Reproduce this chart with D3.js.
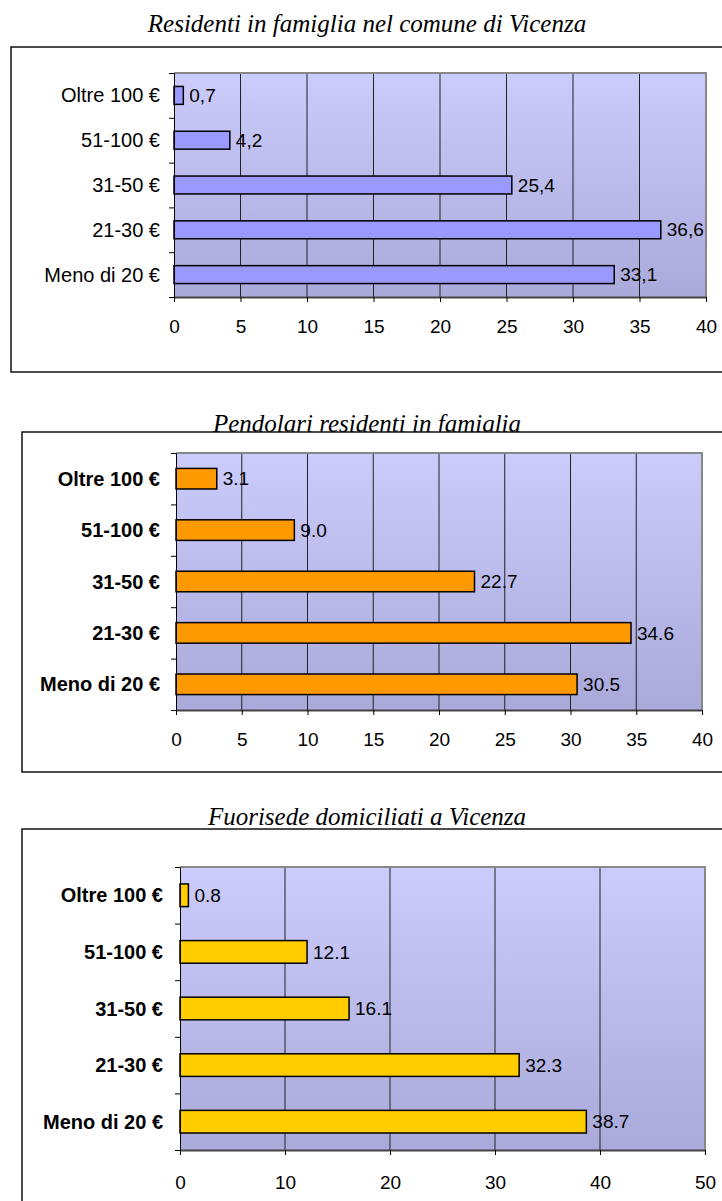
<!DOCTYPE html>
<html>
<head>
<meta charset="utf-8">
<script src="https://cdn.jsdelivr.net/npm/d3@7"></script>
<style>
  body { margin: 0; background: #fff; }
  svg { display: block; }
  text { font-family: "Liberation Sans", Arial, sans-serif; fill: #000; }
  .title { font-family: "Liberation Serif", "Times New Roman", serif; font-style: italic; }
</style>
</head>
<body>
<svg id="chart" width="722" height="1201"></svg>
<script>
// categories, top to bottom
var categories = ['Oltre 100 €', '51-100 €', '31-50 €', '21-30 €', 'Meno di 20 €'];

var titles = [
  'Residenti in famiglia nel comune di Vicenza',
  'Pendolari residenti in famiglia',
  'Fuorisede domiciliati a Vicenza'
];

var residenti = [0.7, 4.2, 25.4, 36.6, 33.1];
var pendolari = [3.1, 9.0, 22.7, 34.6, 30.5];
var fuorisede = [0.8, 12.1, 16.1, 32.3, 38.7];

var ticks1 = [0, 5, 10, 15, 20, 25, 30, 35, 40];
var ticks2 = [0, 5, 10, 15, 20, 25, 30, 35, 40];
var ticks3 = [0, 10, 20, 30, 40, 50];

var svg = d3.select('#chart');

var defs = svg.append('defs');
var grad = defs.append('linearGradient')
  .attr('id', 'bg')
  .attr('x1', 0).attr('y1', 0).attr('x2', 0).attr('y2', 1);
grad.append('stop').attr('offset', '0%').attr('stop-color', '#ccccfc');
grad.append('stop').attr('offset', '100%').attr('stop-color', '#aaaada');

function drawChart(opt) {
  var g = svg.append('g');

  // title first, so the frame hides descenders that run into it
  g.append('text')
    .attr('class', 'title')
    .attr('x', 367).attr('y', opt.titleY)
    .attr('text-anchor', 'middle')
    .style('font-size', '25px')
    .text(opt.title);

  // outer frame
  g.append('rect')
    .attr('x', opt.frame.x).attr('y', opt.frame.y)
    .attr('width', 800).attr('height', opt.frame.h)
    .attr('fill', '#fff').attr('stroke', '#111').attr('stroke-width', 1.5);

  var p = opt.plot;
  var x = d3.scaleLinear().domain([0, opt.ticks[opt.ticks.length - 1]]).range([p.l, p.r]);
  var y = d3.scaleBand().domain(categories).range([p.t, p.b])
    .paddingInner(0.6).paddingOuter(0.3);
  var yEdge = d3.scaleLinear().domain([0, categories.length]).range([p.t, p.b]);

  g.append('rect')
    .attr('x', p.l).attr('y', p.t)
    .attr('width', p.r - p.l).attr('height', p.b - p.t)
    .attr('fill', 'url(#bg)');

  // grid lines
  g.selectAll('.grid')
    .data(opt.ticks.slice(1, -1))
    .enter().append('line')
    .attr('x1', d => x(d)).attr('x2', d => x(d))
    .attr('y1', p.t).attr('y2', p.b)
    .attr('stroke', '#222').attr('stroke-width', 1);

  // plot border top / right
  g.append('path')
    .attr('d', 'M' + p.l + ',' + p.t + 'H' + p.r + 'V' + p.b)
    .attr('fill', 'none').attr('stroke', '#888').attr('stroke-width', 2);

  // bars
  g.selectAll('.bar')
    .data(opt.values)
    .enter().append('rect')
    .attr('x', x(0))
    .attr('y', (d, i) => y(categories[i]))
    .attr('width', d => x(d) - x(0))
    .attr('height', y.bandwidth())
    .attr('fill', opt.color)
    .attr('stroke', '#000').attr('stroke-width', 1.5);

  // value labels
  g.selectAll('.val')
    .data(opt.values)
    .enter().append('text')
    .attr('x', d => x(d) + 6)
    .attr('y', (d, i) => y(categories[i]) + y.bandwidth() / 2)
    .attr('dy', '0.35em')
    .style('font-size', '19px')
    .text(d => opt.fmt(d));

  // category axis: ticks at boundaries
  var ya = g.append('g')
    .attr('transform', 'translate(' + p.l + ',0)')
    .call(d3.axisLeft(yEdge).tickValues(d3.range(categories.length + 1)).tickFormat('').tickSize(5).tickSizeOuter(0));
  ya.select('.domain').attr('stroke', '#000');

  g.selectAll('.cat')
    .data(categories)
    .enter().append('text')
    .attr('x', opt.labelX)
    .attr('y', d => y(d) + y.bandwidth() / 2)
    .attr('dy', '0.35em')
    .attr('text-anchor', 'end')
    .style('font-size', '20px')
    .style('font-weight', opt.bold ? 'bold' : 'normal')
    .text(d => d);

  // value axis
  var xa = g.append('g')
    .attr('transform', 'translate(0,' + p.b + ')')
    .call(d3.axisBottom(x).tickValues(opt.ticks).tickSize(5).tickSizeOuter(0).tickPadding(opt.tickPad));
  xa.select('.domain').attr('stroke', '#444').attr('stroke-width', 2);
  xa.selectAll('text').style('font-size', '19px').style('font-family', '"Liberation Sans", Arial, sans-serif').attr('fill', '#000');
  xa.selectAll('line').attr('stroke', '#000');
}

drawChart({
  title: titles[0], titleY: 32,
  frame: {x: 11, y: 47, h: 325},
  plot: {l: 174, r: 706, t: 73, b: 297},
  values: residenti, ticks: ticks1, color: '#9999ff',
  labelX: 160, bold: false, tickPad: 18,
  fmt: d => d3.format('.1f')(d).replace('.', ',')
});

drawChart({
  title: titles[1], titleY: 432,
  frame: {x: 22, y: 432, h: 340},
  plot: {l: 176, r: 702, t: 453, b: 710},
  values: pendolari, ticks: ticks2, color: '#ff9900',
  labelX: 160, bold: true, tickPad: 18,
  fmt: d3.format('.1f')
});

drawChart({
  title: titles[2], titleY: 825,
  frame: {x: 22, y: 829, h: 420},
  plot: {l: 180, r: 705, t: 867, b: 1150},
  values: fuorisede, ticks: ticks3, color: '#ffcc00',
  labelX: 163, bold: true, tickPad: 21,
  fmt: d3.format('.1f')
});
</script>
</body>
</html>
